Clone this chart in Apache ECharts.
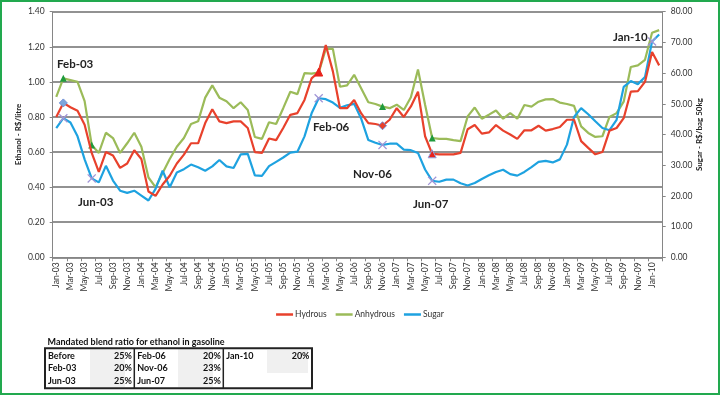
<!DOCTYPE html>
<html><head><meta charset="utf-8">
<script src="https://cdn.jsdelivr.net/npm/echarts@6/dist/echarts.min.js"></script>
<style>
html,body{margin:0;padding:0;background:#fff;}
#chart{position:absolute;left:0;top:0;width:720px;height:395px;}
</style></head><body>
<div id="chart"></div>
<script>
const months = ['Jan-03','Feb-03','Mar-03','Apr-03','May-03','Jun-03','Jul-03','Aug-03','Sep-03','Oct-03','Nov-03','Dec-03',
'Jan-04','Feb-04','Mar-04','Apr-04','May-04','Jun-04','Jul-04','Aug-04','Sep-04','Oct-04','Nov-04','Dec-04',
'Jan-05','Feb-05','Mar-05','Apr-05','May-05','Jun-05','Jul-05','Aug-05','Sep-05','Oct-05','Nov-05','Dec-05',
'Jan-06','Feb-06','Mar-06','Apr-06','May-06','Jun-06','Jul-06','Aug-06','Sep-06','Oct-06','Nov-06','Dec-06',
'Jan-07','Feb-07','Mar-07','Apr-07','May-07','Jun-07','Jul-07','Aug-07','Sep-07','Oct-07','Nov-07','Dec-07',
'Jan-08','Feb-08','Mar-08','Apr-08','May-08','Jun-08','Jul-08','Aug-08','Sep-08','Oct-08','Nov-08','Dec-08',
'Jan-09','Feb-09','Mar-09','Apr-09','May-09','Jun-09','Jul-09','Aug-09','Sep-09','Oct-09','Nov-09','Dec-09',
'Jan-10','Feb-10'];

// Ethanol R$/litre (left axis)
const hydrous = [0.80,0.88,0.855,0.835,0.755,0.595,0.487,0.60,0.58,0.51,0.535,0.61,
0.56,0.375,0.35,0.415,0.465,0.535,0.585,0.65,0.65,0.765,0.844,0.775,
0.765,0.775,0.775,0.737,0.60,0.595,0.677,0.668,0.737,0.812,0.822,0.897,
1.02,1.056,1.21,1.06,0.85,0.85,0.897,0.82,0.765,0.76,0.75,0.784,
0.85,0.80,0.86,0.944,0.69,0.59,0.587,0.587,0.587,0.595,0.73,0.754,
0.705,0.712,0.754,0.722,0.70,0.675,0.724,0.724,0.75,0.722,0.731,0.743,
0.784,0.784,0.662,0.624,0.587,0.60,0.722,0.737,0.793,0.944,0.947,1.0,
1.17,1.094];

const anhydrous = [0.915,1.02,1.01,1.00,0.89,0.64,0.595,0.71,0.68,0.595,0.65,0.71,
0.63,0.455,0.40,0.48,0.56,0.63,0.68,0.76,0.775,0.91,0.98,0.91,
0.89,0.85,0.884,0.84,0.686,0.675,0.77,0.76,0.85,0.944,0.93,1.05,
1.047,1.053,1.188,1.188,0.972,0.98,1.04,0.962,0.884,0.874,0.859,0.85,
0.87,0.84,0.912,1.07,0.87,0.68,0.675,0.675,0.668,0.662,0.803,0.854,
0.79,0.813,0.837,0.79,0.822,0.79,0.868,0.859,0.887,0.90,0.902,0.882,
0.874,0.863,0.746,0.709,0.686,0.69,0.80,0.822,0.887,1.085,1.094,1.126,
1.28,1.295];

// Sugar R$/bag 50kg (right axis)
const sugar = [42.1,45.3,43.9,39.4,31.9,25.7,24.4,29.8,25.0,21.7,21.0,21.7,
20.1,18.5,22.3,28.2,22.8,27.6,28.7,30.2,29.3,28.2,29.6,31.7,
29.6,29.1,33.5,33.7,26.7,26.5,29.7,31.1,32.5,34.1,34.4,39.4,
46.9,51.8,51.5,50.4,48.7,49.5,50.0,45.1,38.2,37.3,36.6,37.0,
37.0,35.1,34.9,34.0,28.6,24.9,24.6,25.3,25.3,24.1,23.4,24.2,
25.5,26.7,27.8,28.5,27.1,26.6,27.8,29.4,31.1,31.4,30.9,31.9,
36.7,45.7,48.6,46.6,44.3,42.1,41.4,44.8,55.5,57.4,56.4,58.7,
70.3,72.6];

const leftTicks = {min:0, max:1.4, step:0.2};
const rightTicks = {min:0, max:80, step:10};

// blend-ratio change dates highlighted on the lines
const hydrousMarks = {'Feb-03':'diamond','Feb-06':'triangle','Nov-06':'diamond','Jun-07':'triangle'};
const anhydrousMarks = ['Feb-03','Jun-03','Nov-06','Jun-07'];
const sugarMarks = ['Feb-03','Jun-03','Feb-06','Nov-06','Jun-07','Jan-10'];
const annotations = ['Feb-03','Jun-03','Feb-06','Nov-06','Jun-07','Jan-10'];

const blendTitle = 'Mandated blend ratio for ethanol in gasoline';
const blendCols = [
  [['Before','25%'],['Feb-03','20%'],['Jun-03','25%']],
  [['Feb-06','20%'],['Nov-06','23%'],['Jun-07','25%']],
  [['Jan-10','20%']]
];

const FONT = 'Lato, "Open Sans", sans-serif';
const XSHAPE = 'path://M0,1L1,0L5,4L9,0L10,1L6,5L10,9L9,10L5,6L1,10L0,9L4,5Z';

const hydData = hydrous.map((v,i)=>{
  const s = hydrousMarks[months[i]];
  if(!s) return v;
  if(s==='diamond') return {value:v, symbol:'diamond', symbolSize:8,
    itemStyle:{color: months[i]==='Feb-03' ? '#7ba6dc' : '#e8412c', borderColor:'#6f8fd6', borderWidth:1}};
  return {value:v, symbol:'triangle', symbolSize:8, itemStyle:{color:'#e8231c', borderColor: months[i]==='Jun-07'?'#8fa0e0':'#e8231c', borderWidth:1}};
});
const anhData = anhydrous.map((v,i)=> anhydrousMarks.includes(months[i]) ?
  {value:v, symbol:'triangle', symbolSize:7, itemStyle:{color:'#1f9a3c', borderWidth:0}} : v);
const sugData = sugar.map((v,i)=> sugarMarks.includes(months[i]) ?
  {value:v, symbol:XSHAPE, symbolSize:9, itemStyle:{color:'#a195d6', borderWidth:0}} : v);

const chart = echarts.init(document.getElementById('chart'), null, {renderer:'canvas'});

const annotPos = {'Feb-03':[57,64],'Jun-03':[78,202],'Feb-06':[313,127],'Nov-06':[353,174],'Jun-07':[413,204],'Jan-10':[613,37]};
const graphics = [];
annotations.forEach(a=>{
  const p = annotPos[a];
  graphics.push({type:'text', x:p[0], y:p[1], z:100,
    style:{text:a, font:'bold 11.5px '+FONT, fill:'#222', textAlign:'left', textVerticalAlign:'middle'}});
});
// table
graphics.push({type:'text', x:47.5, y:342.5, style:{text:blendTitle, font:'bold 9px '+FONT, fill:'#111', textAlign:'left', textVerticalAlign:'middle'}});
const colX = [45, 134.3, 223.3, 312];
const rowY = [355.7, 368.3, 381];
const shade = [[90,349,35,38],[178,349,35,38],[267,350,41,23]];
shade.forEach(r=>graphics.push({type:'rect', shape:{x:r[0],y:r[1],width:r[2],height:r[3]}, style:{fill:'#f0f0f0'}}));
blendCols.forEach((col,c)=>{
  col.forEach((row,r)=>{
    graphics.push({type:'text', x:colX[c]+3, y:rowY[r], style:{text:row[0], font:'bold 9px '+FONT, fill:'#111', textAlign:'left', textVerticalAlign:'middle'}});
    graphics.push({type:'text', x:colX[c+1]-2.5, y:rowY[r], style:{text:row[1], font:'bold 9px '+FONT, fill:'#111', textAlign:'right', textVerticalAlign:'middle'}});
  });
});
graphics.push({type:'rect', shape:{x:45,y:348.3,width:267,height:40}, style:{fill:'none', stroke:'#222', lineWidth:2}});
graphics.push({type:'line', shape:{x1:134.3,y1:348.3,x2:134.3,y2:388.3}, style:{stroke:'#222', lineWidth:1.5}});
graphics.push({type:'line', shape:{x1:223.3,y1:348.3,x2:223.3,y2:388.3}, style:{stroke:'#222', lineWidth:1.5}});
// outer frame
graphics.push({type:'rect', shape:{x:1,y:1,width:718,height:393}, style:{fill:'none', stroke:'#22a94f', lineWidth:2}, z:200});

const axisGray = '#868686';
chart.setOption({
  animation:false,
  backgroundColor:'#ffffff',
  textStyle:{fontFamily:FONT},
  grid:{left:52.7, right:57.3, top:11.7, bottom:137.7, containLabel:false},
  legend:{
    data:['Hydrous','Anhydrous','Sugar'],
    top:305, left:'center', icon:'rect', itemWidth:17, itemHeight:2.5, itemGap:9,
    textStyle:{fontSize:8.5, color:'#333', fontFamily:FONT, padding:[0,0,0,-3]}
  },
  xAxis:{
    type:'category', data:months, boundaryGap:true,
    axisLine:{show:true, lineStyle:{color:axisGray, width:1}},
    axisTick:{show:true, interval:1, length:4, alignWithLabel:false, lineStyle:{color:axisGray}},
    axisLabel:{interval:1, rotate:90, fontSize:8.5, color:'#333', margin:5, fontFamily:FONT},
    splitLine:{show:false}
  },
  yAxis:[
    {type:'value', min:leftTicks.min, max:leftTicks.max, interval:leftTicks.step,
     name:'Ethanol - R$/litre', nameLocation:'middle', nameRotate:90, nameGap:30, nameMoveOverlap:false,
     nameTextStyle:{fontWeight:'bold', fontSize:8, color:'#222', fontFamily:FONT},
     axisLine:{show:true, lineStyle:{color:axisGray}},
     axisTick:{show:true, length:3, lineStyle:{color:axisGray}},
     axisLabel:{formatter:v=>v.toFixed(2), fontSize:8.5, color:'#333', margin:8, fontFamily:FONT},
     splitLine:{show:true, lineStyle:{color:'#6e6e6e', width:1.5}}},
    {type:'value', position:'right', min:rightTicks.min, max:rightTicks.max, interval:rightTicks.step,
     name:'Sugar - R$/bag 50kg', nameLocation:'middle', nameRotate:90, nameGap:33, nameMoveOverlap:false,
     nameTextStyle:{fontWeight:'bold', fontSize:8, color:'#222', fontFamily:FONT},
     axisLine:{show:true, lineStyle:{color:axisGray}},
     axisTick:{show:true, length:3, lineStyle:{color:axisGray}},
     axisLabel:{formatter:v=>v.toFixed(2), fontSize:8.5, color:'#333', margin:8, fontFamily:FONT},
     splitLine:{show:false}}
  ],
  series:[
    {name:'Anhydrous', type:'line', data:anhData, yAxisIndex:0, symbol:'none', showAllSymbol:true, color:'#9bbb59',
     lineStyle:{width:2.2, color:'#9bbb59'}, z:2},
    {name:'Sugar', type:'line', data:sugData, yAxisIndex:1, symbol:'none', showAllSymbol:true, color:'#1ea2e0',
     lineStyle:{width:2.2, color:'#1ea2e0'}, z:3},
    {name:'Hydrous', type:'line', data:hydData, yAxisIndex:0, symbol:'none', showAllSymbol:true, color:'#e8412c',
     lineStyle:{width:2.2, color:'#e8412c'}, z:4}
  ],
  graphic:{elements:graphics}
});
</script>
</body></html>
